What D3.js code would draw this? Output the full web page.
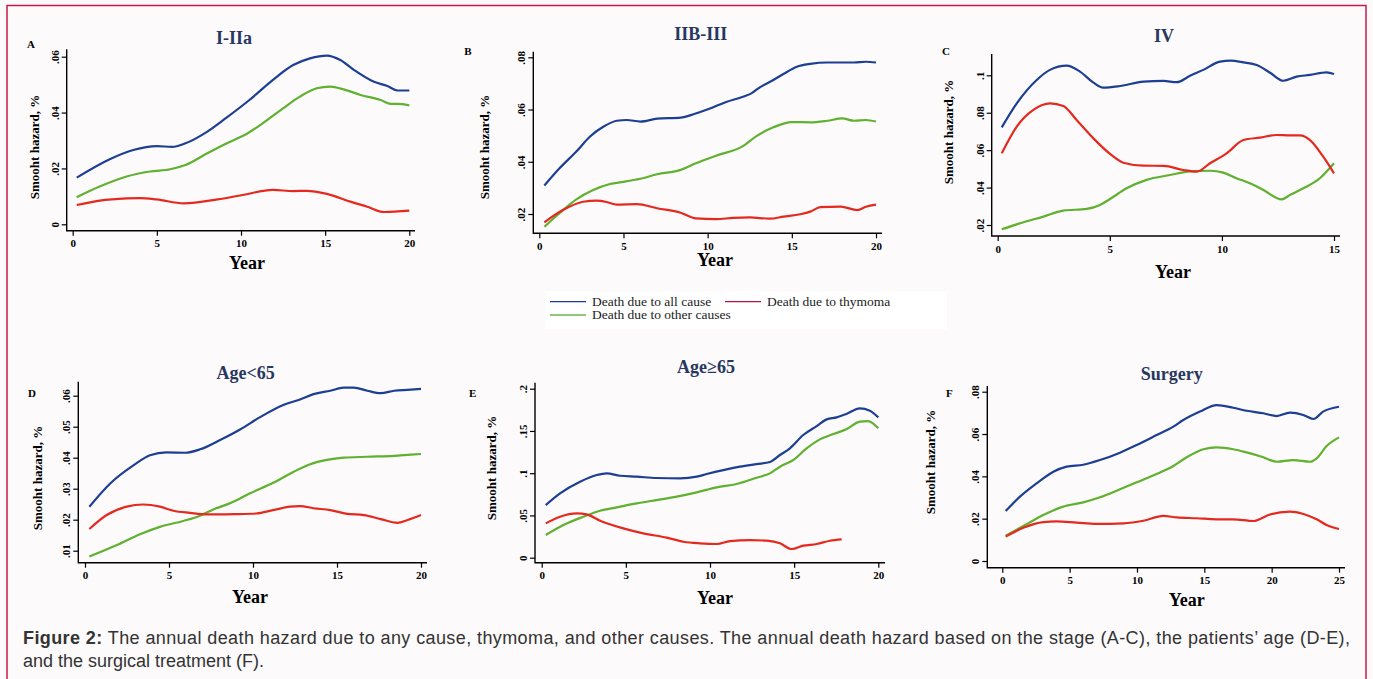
<!DOCTYPE html>
<html>
<head>
<meta charset="utf-8">
<script src="https://cdn.jsdelivr.net/npm/d3@7"></script>
<style>
  body { margin: 0; background: #fcfafb; }
  svg { display: block; }
</style>
</head>
<body>
<svg id="fig" width="1373" height="679"></svg>
<script>
// smoothed hazard curves, [year, hazard]
const allA = [[0.24,.0167],[2.2,.0233],[3.6,.0266],[5,.028],[5.9,.0277],[6.7,.029],[8,.0332],[9.1,.038],[10.5,.0445],[11.9,.0517],[13.1,.057],[14.1,.0594],[15.1,.0604],[15.9,.0588],[16.7,.0553],[17.9,.051],[18.7,.0495],[19.3,.0479],[20,.0479]]
const thyA = [[0.24,.0069],[1.6,.0085],[3.2,.0093],[4,.0094],[5,.0089],[6.6,.0075],[8.6,.0089],[10.1,.0105],[11.9,.0123],[13.1,.0119],[13.9,.012],[15.1,.0109],[16.5,.0081],[17.5,.0063],[18.5,.0044],[20,.0049]]
const othA = [[0.24,.0097],[1.6,.0135],[3.2,.0171],[4.6,.0189],[5.8,.0197],[6.7,.0212],[8,.0254],[9.1,.0288],[10.4,.0326],[11.3,.0362],[12.5,.0415],[13.5,.0457],[14.5,.0487],[15.3,.0493],[16.1,.0483],[17.1,.0463],[18.3,.0445],[18.9,.0431],[19.3,.0431],[20,.0426]]

const allB = [[0.3,.0309],[1.2,.0375],[2.2,.0439],[3,.0496],[3.8,.0534],[4.6,.0557],[5.2,.056],[6,.0554],[7,.0565],[8.4,.0569],[9.2,.0583],[10.1,.0603],[11.1,.0629],[12.1,.0649],[12.6,.0662],[13.1,.0685],[13.9,.0713],[14.5,.0736],[15.3,.0764],[16.1,.0775],[17.1,.078],[17.9,.078],[18.7,.078],[19.4,.0783],[20,.078]]
const thyB = [[0.3,.0168],[1.4,.0215],[2.6,.0247],[3.4,.0251],[4,.0246],[4.6,.0236],[5.8,.0238],[7,.0222],[8.4,.0205],[9.3,.0183],[10.5,.018],[11.5,.0185],[12.5,.0187],[13.7,.0182],[14.5,.019],[15.5,.0199],[16.1,.0209],[16.7,.0226],[17.9,.0228],[18.9,.0215],[19.4,.0228],[20,.0236]]
const othB = [[0.3,.0151],[1.2,.0203],[2.2,.0256],[3.2,.0292],[4.2,.0315],[5,.0323],[6,.0335],[7,.0352],[8.4,.0369],[9.3,.0394],[10.5,.0423],[12.1,.046],[12.9,.0498],[13.9,.0532],[15,.0552],[16.1,.0551],[17.1,.0557],[18,.0566],[18.7,.0557],[19.4,.056],[20,.0554]]

const allC = [[0.18,.0722],[0.85,.085],[1.74,.0975],[2.33,.1029],[3.08,.1052],[3.67,.102],[4.27,.0961],[4.71,.0934],[5.46,.0943],[6.5,.0966],[7.4,.097],[7.98,.0963],[8.58,.0997],[9.17,.1029],[9.92,.1073],[10.4,.1078],[10.96,.1069],[11.55,.1055],[12.15,.1014],[12.74,.0971],[13.33,.0993],[13.93,.1002],[14.67,.1016],[15,.1007]]
const thyC = [[0.18,.0583],[0.85,.0726],[1.59,.0815],[2.33,.085],[2.93,.0836],[3.52,.0761],[4.27,.0663],[5.01,.058],[5.6,.0533],[6.5,.0517],[7.4,.0516],[8.28,.0494],[8.88,.0485],[9.47,.053],[10.21,.0583],[10.96,.0654],[11.7,.0667],[12.44,.0681],[13.04,.0679],[13.48,.0679],[13.93,.0654],[14.52,.0565],[15,.0476]]
const othC = [[0.18,.0177],[1,.0209],[2.04,.0245],[2.93,.0277],[3.97,.0286],[4.56,.0307],[5.01,.0339],[5.75,.0396],[6.64,.0441],[7.68,.0467],[8.58,.0487],[9.47,.049],[10.06,.048],[10.65,.045],[11.25,.0423],[11.85,.0387],[12.67,.0337],[13.04,.0361],[13.63,.0396],[14.37,.045],[15,.053]]

const allD = [[0.26,.0242],[1.5,.0317],[2.9,.0376],[3.87,.0408],[4.86,.0417],[5.95,.0416],[6.85,.0427],[8.04,.0457],[9.23,.0491],[10.4,.053],[11.8,.057],[12.8,.0588],[13.6,.0605],[14.6,.0616],[15.4,.0626],[16,.0626],[16.8,.0616],[17.6,.0608],[18.4,.0616],[19.2,.0619],[20,.0622]]
const thyD = [[0.26,.017],[1.29,.0215],[2.48,.0242],[3.47,.0249],[4.46,.0242],[5.26,.0229],[6.25,.0222],[7.24,.0217],[8.83,.0218],[10.2,.022],[11.2,.0231],[12.2,.0242],[12.8,.0244],[13.6,.0237],[14.6,.0231],[15.6,.0219],[16.6,.0215],[17.6,.0202],[18.6,.019],[19.2,.0199],[20,.0215]]
const othD = [[0.26,.0081],[1.9,.0118],[3.27,.0153],[4.46,.0177],[5.85,.0196],[6.85,.0213],[7.64,.0233],[8.63,.0253],[9.82,.0285],[11.2,.0319],[12.4,.0354],[13.4,.0379],[14.4,.0393],[15.4,.04],[16.8,.0403],[18.4,.0406],[19.4,.041],[20,.0412]]

const allE = [[0.24,.0623],[1.09,.0761],[2.28,.0899],[3.27,.0978],[3.86,.0998],[4.65,.097],[5.64,.0959],[6.83,.0943],[8.22,.0939],[9.21,.0959],[9.8,.099],[10.79,.1037],[11.78,.1077],[12.77,.1108],[13.56,.1132],[14.16,.1215],[14.75,.1294],[15.54,.1452],[16.34,.1558],[16.93,.1637],[17.52,.1661],[18.1,.17],[18.9,.1767],[19.5,.174],[20,.1661]]
const thyE = [[0.24,.0406],[1.09,.0485],[2.08,.0525],[2.67,.0513],[3.47,.0438],[4.85,.0347],[6.04,.0288],[7.43,.0237],[8.42,.0189],[9.41,.017],[10.4,.0162],[11.19,.0197],[12.38,.0209],[13.37,.0201],[14.16,.017],[14.85,.0103],[15.54,.0142],[16.34,.0162],[17.13,.0201],[17.82,.0217]]
const othE = [[0.24,.0268],[1.29,.0387],[2.48,.0485],[3.47,.0556],[4.46,.0596],[5.64,.0643],[6.83,.0682],[8.02,.0722],[9.21,.0773],[10.4,.0832],[11.58,.0872],[12.77,.0947],[13.56,.0998],[14.16,.1077],[14.95,.1156],[15.74,.1294],[16.53,.14],[17.33,.1463],[18.1,.1519],[18.9,.161],[19.4,.1617],[20,.1531]]

const allF = [[0.25,.0236],[1.31,.0304],[2.55,.0367],[3.79,.0422],[4.78,.0446],[6.01,.0455],[7.25,.0477],[8.74,.0512],[9.98,.0548],[11.46,.0595],[12.7,.0635],[13.44,.0666],[14.68,.0706],[15.92,.0737],[17.15,.0724],[18.14,.071],[19.38,.0698],[20.37,.0685],[21.36,.0701],[22.35,.069],[23.1,.0671],[23.82,.0706],[25,.0729]]
const thyF = [[0.25,.0115],[1.56,.0157],[3.04,.0184],[4.03,.0187],[5.52,.0181],[7,.0175],[8.99,.0178],[10.47,.019],[11.96,.0213],[12.95,.0206],[14.43,.0202],[15.92,.0197],[17.15,.0197],[18.64,.0189],[19.88,.022],[21.36,.0233],[22.35,.0222],[23.34,.0197],[24.08,.017],[25,.0151]]
const othF = [[0.25,.012],[1.56,.0165],[3.04,.0217],[4.53,.0257],[6.01,.0277],[7.25,.0301],[8.74,.0339],[9.98,.0372],[11.46,.0411],[12.7,.0449],[13.69,.049],[14.93,.0528],[15.92,.0537],[17.15,.0528],[18.14,.0513],[19.38,.049],[20.37,.0469],[21.61,.0477],[22.85,.0469],[23.34,.0485],[24.08,.0543],[25,.0584]]

const panelTitles = ["I-IIa", "IIB-III", "IV", "Age<65", "Age\u226565", "Surgery"]
const panelLetters = ["A", "B", "C", "D", "E", "F"]
const xTicks20 = [0, 5, 10, 15, 20]
const xTicks15 = [0, 5, 10, 15]
const xTicks25 = [0, 5, 10, 15, 20, 25]
const yTicksA = [0, .02, .04, .06]
const yTicksB = [.02, .04, .06, .08]
const yTicksC = [.02, .04, .06, .08, .1]
const yTicksD = [.01, .02, .03, .04, .05, .06]
const yTicksE = [0, .05, .1, .15, .2]
const yTicksF = [0, .02, .04, .06, .08]
const seriesNames = ["Death due to all cause", "Death due to thymoma", "Death due to other causes"]

const lineColours = ["#1d3f93", "#e4291f", "#5fb12f"]
const legendColours = ["#1a3d8a", "#b3174a", "#6db552"]
const titleColour = "#28375f"
const serif = "'Liberation Serif', 'Times New Roman', serif"

// page layout: where each panel's axes sit
const panels = [
  {data: [allA, thyA, othA], xDom: [0, 20], xPx: [72.7, 409.3], yDom: [0, .06], yPx: [224.3, 56.7],
   xTicks: xTicks20, yTicks: yTicksA, axX: 66.7, axY: 230.7, top: 49.3, right: 415,
   title: [234, 44], letter: [31, 48], yLab: [34, 147], year: [247, 269]},
  {data: [allB, thyB, othB], xDom: [0, 20], xPx: [539.3, 876], yDom: [.02, .08], yPx: [214, 57.3],
   xTicks: xTicks20, yTicks: yTicksB, axX: 533.3, axY: 233.3, top: 51.7, right: 882,
   title: [700.7, 40], letter: [468, 55], yLab: [484, 147], year: [715, 266]},
  {data: [allC, thyC, othC], xDom: [0, 15], xPx: [997.7, 1334], yDom: [.02, .1], yPx: [225, 75.3],
   xTicks: xTicks15, yTicks: yTicksC, axX: 991.7, axY: 236, top: 54, right: 1340,
   title: [1164, 42], letter: [946, 55], yLab: [948, 132], year: [1173, 278]},
  {data: [allD, thyD, othD], xDom: [0, 20], xPx: [85, 421], yDom: [.01, .06], yPx: [550.7, 395.7],
   xTicks: xTicks20, yTicks: yTicksD, axX: 78.3, axY: 562.7, top: 381.7, right: 427,
   title: [245.7, 379], letter: [32, 397], yLab: [37.7, 478], year: [250, 603]},
  {data: [allE, thyE, othE], xDom: [0, 20], xPx: [541.7, 878.3], yDom: [0, .2], yPx: [557.7, 388.7],
   xTicks: xTicks20, yTicks: yTicksE, axX: 535, axY: 562.7, top: 382.7, right: 885,
   title: [706, 373], letter: [472.7, 397], yLab: [491.7, 468], year: [715, 604]},
  {data: [allF, thyF, othF], xDom: [0, 25], xPx: [1002.3, 1339], yDom: [0, .08], yPx: [561, 391.7],
   xTicks: xTicks25, yTicks: yTicksF, axX: 987.3, axY: 567.7, top: 386, right: 1345,
   title: [1171.7, 380], letter: [949.3, 397], yLab: [930, 462], year: [1186.7, 606]}
]

// stata style tick labels: .02 instead of 0.02
const fmtY = d => d === 0 ? "0" : d3.format("~g")(d).replace(/^0/, "")

const svg = d3.select("#fig")

// frame
svg.append("path")
  .attr("d", "M7,690 V5.5 H1366 V690")
  .attr("fill", "none")
  .attr("stroke", "#c41a4c")
  .attr("stroke-width", 1.5)

panels.forEach((p, i) => {
  const g = svg.append("g")
  const x = d3.scaleLinear().domain(p.xDom).range(p.xPx)
  const y = d3.scaleLinear().domain(p.yDom).range(p.yPx)

  // x axis
  const gx = g.append("g")
    .attr("transform", `translate(0,${p.axY})`)
    .call(d3.axisBottom(x).tickValues(p.xTicks).tickSize(5).tickSizeOuter(0).tickPadding(4))
  gx.select(".domain").remove()
  gx.selectAll("line").attr("stroke", "#000").attr("stroke-width", 1.2)
  gx.selectAll("text")
    .attr("font-family", serif).attr("font-weight", "bold").attr("font-size", 11).attr("fill", "#000")

  // y axis, labels turned on their side
  const gy = g.append("g")
    .attr("transform", `translate(${p.axX},0)`)
    .call(d3.axisLeft(y).tickValues(p.yTicks).tickFormat(fmtY).tickSize(5).tickSizeOuter(0))
  gy.select(".domain").remove()
  gy.selectAll("line").attr("stroke", "#000").attr("stroke-width", 1.2)
  gy.selectAll("text")
    .attr("x", null).attr("dy", null)
    .attr("transform", "translate(-12,0) rotate(-90)")
    .attr("text-anchor", "middle")
    .attr("dy", "0.35em")
    .attr("font-family", serif).attr("font-weight", "bold").attr("font-size", 11).attr("fill", "#000")

  g.append("path")
    .attr("d", `M${p.axX},${p.top} V${p.axY} H${p.right}`)
    .attr("fill", "none")
    .attr("stroke", "#000")
    .attr("stroke-width", 1.4)

  const line = d3.line()
    .x(d => x(d[0]))
    .y(d => y(d[1]))
    .curve(d3.curveMonotoneX)

  // draw green and red first so the blue sits on top like the original
  ;[2, 1, 0].forEach(k => {
    g.append("path")
      .datum(p.data[k])
      .attr("d", line)
      .attr("fill", "none")
      .attr("stroke", lineColours[k])
      .attr("stroke-width", 2.2)
      .attr("stroke-linejoin", "round")
  })

  g.append("text")
    .attr("x", p.title[0]).attr("y", p.title[1])
    .attr("text-anchor", "middle")
    .attr("font-family", serif).attr("font-weight", "bold").attr("font-size", 18)
    .attr("fill", titleColour)
    .text(panelTitles[i])

  g.append("text")
    .attr("x", p.letter[0]).attr("y", p.letter[1])
    .attr("text-anchor", "middle")
    .attr("font-family", serif).attr("font-weight", "bold").attr("font-size", 11)
    .text(panelLetters[i])

  g.append("text")
    .attr("transform", `translate(${p.yLab[0]},${p.yLab[1]}) rotate(-90)`)
    .attr("text-anchor", "middle")
    .attr("dy", "0.35em")
    .attr("font-family", serif).attr("font-weight", "bold").attr("font-size", 13)
    .text("Smooht hazard, %")

  g.append("text")
    .attr("x", p.year[0]).attr("y", p.year[1])
    .attr("text-anchor", "middle")
    .attr("font-family", serif).attr("font-weight", "bold").attr("font-size", 18)
    .text("Year")
})

// legend
const lg = svg.append("g")
lg.append("rect")
  .attr("x", 545).attr("y", 291).attr("width", 402).attr("height", 38)
  .attr("fill", "#fff")
const legendPos = [[550, 301.7], [725, 301.7], [550, 315]]
seriesNames.forEach((name, k) => {
  const [lx, ly] = legendPos[k]
  lg.append("line")
    .attr("x1", lx).attr("x2", lx + 36).attr("y1", ly).attr("y2", ly)
    .attr("stroke", legendColours[k]).attr("stroke-width", 1.3)
  lg.append("text")
    .attr("x", lx + 42).attr("y", ly + 4)
    .attr("font-family", serif).attr("font-size", 13.5).attr("fill", "#222")
    .text(name)
})

// caption
const cap = svg.append("g")
  .attr("font-family", "'Liberation Sans', Arial, sans-serif")
  .attr("font-size", 18)
  .attr("fill", "#333")
const c1 = cap.append("text").attr("x", 23).attr("y", 644)
  .attr("textLength", 1327).attr("lengthAdjust", "spacing")
c1.append("tspan").attr("font-weight", "bold").text("Figure 2:")
c1.append("tspan").text(" The annual death hazard due to any cause, thymoma, and other causes. The annual death hazard based on the stage (A-C), the patients\u2019 age (D-E),")
cap.append("text").attr("x", 23).attr("y", 667)
  .text("and the surgical treatment (F).")
</script>
</body>
</html>
